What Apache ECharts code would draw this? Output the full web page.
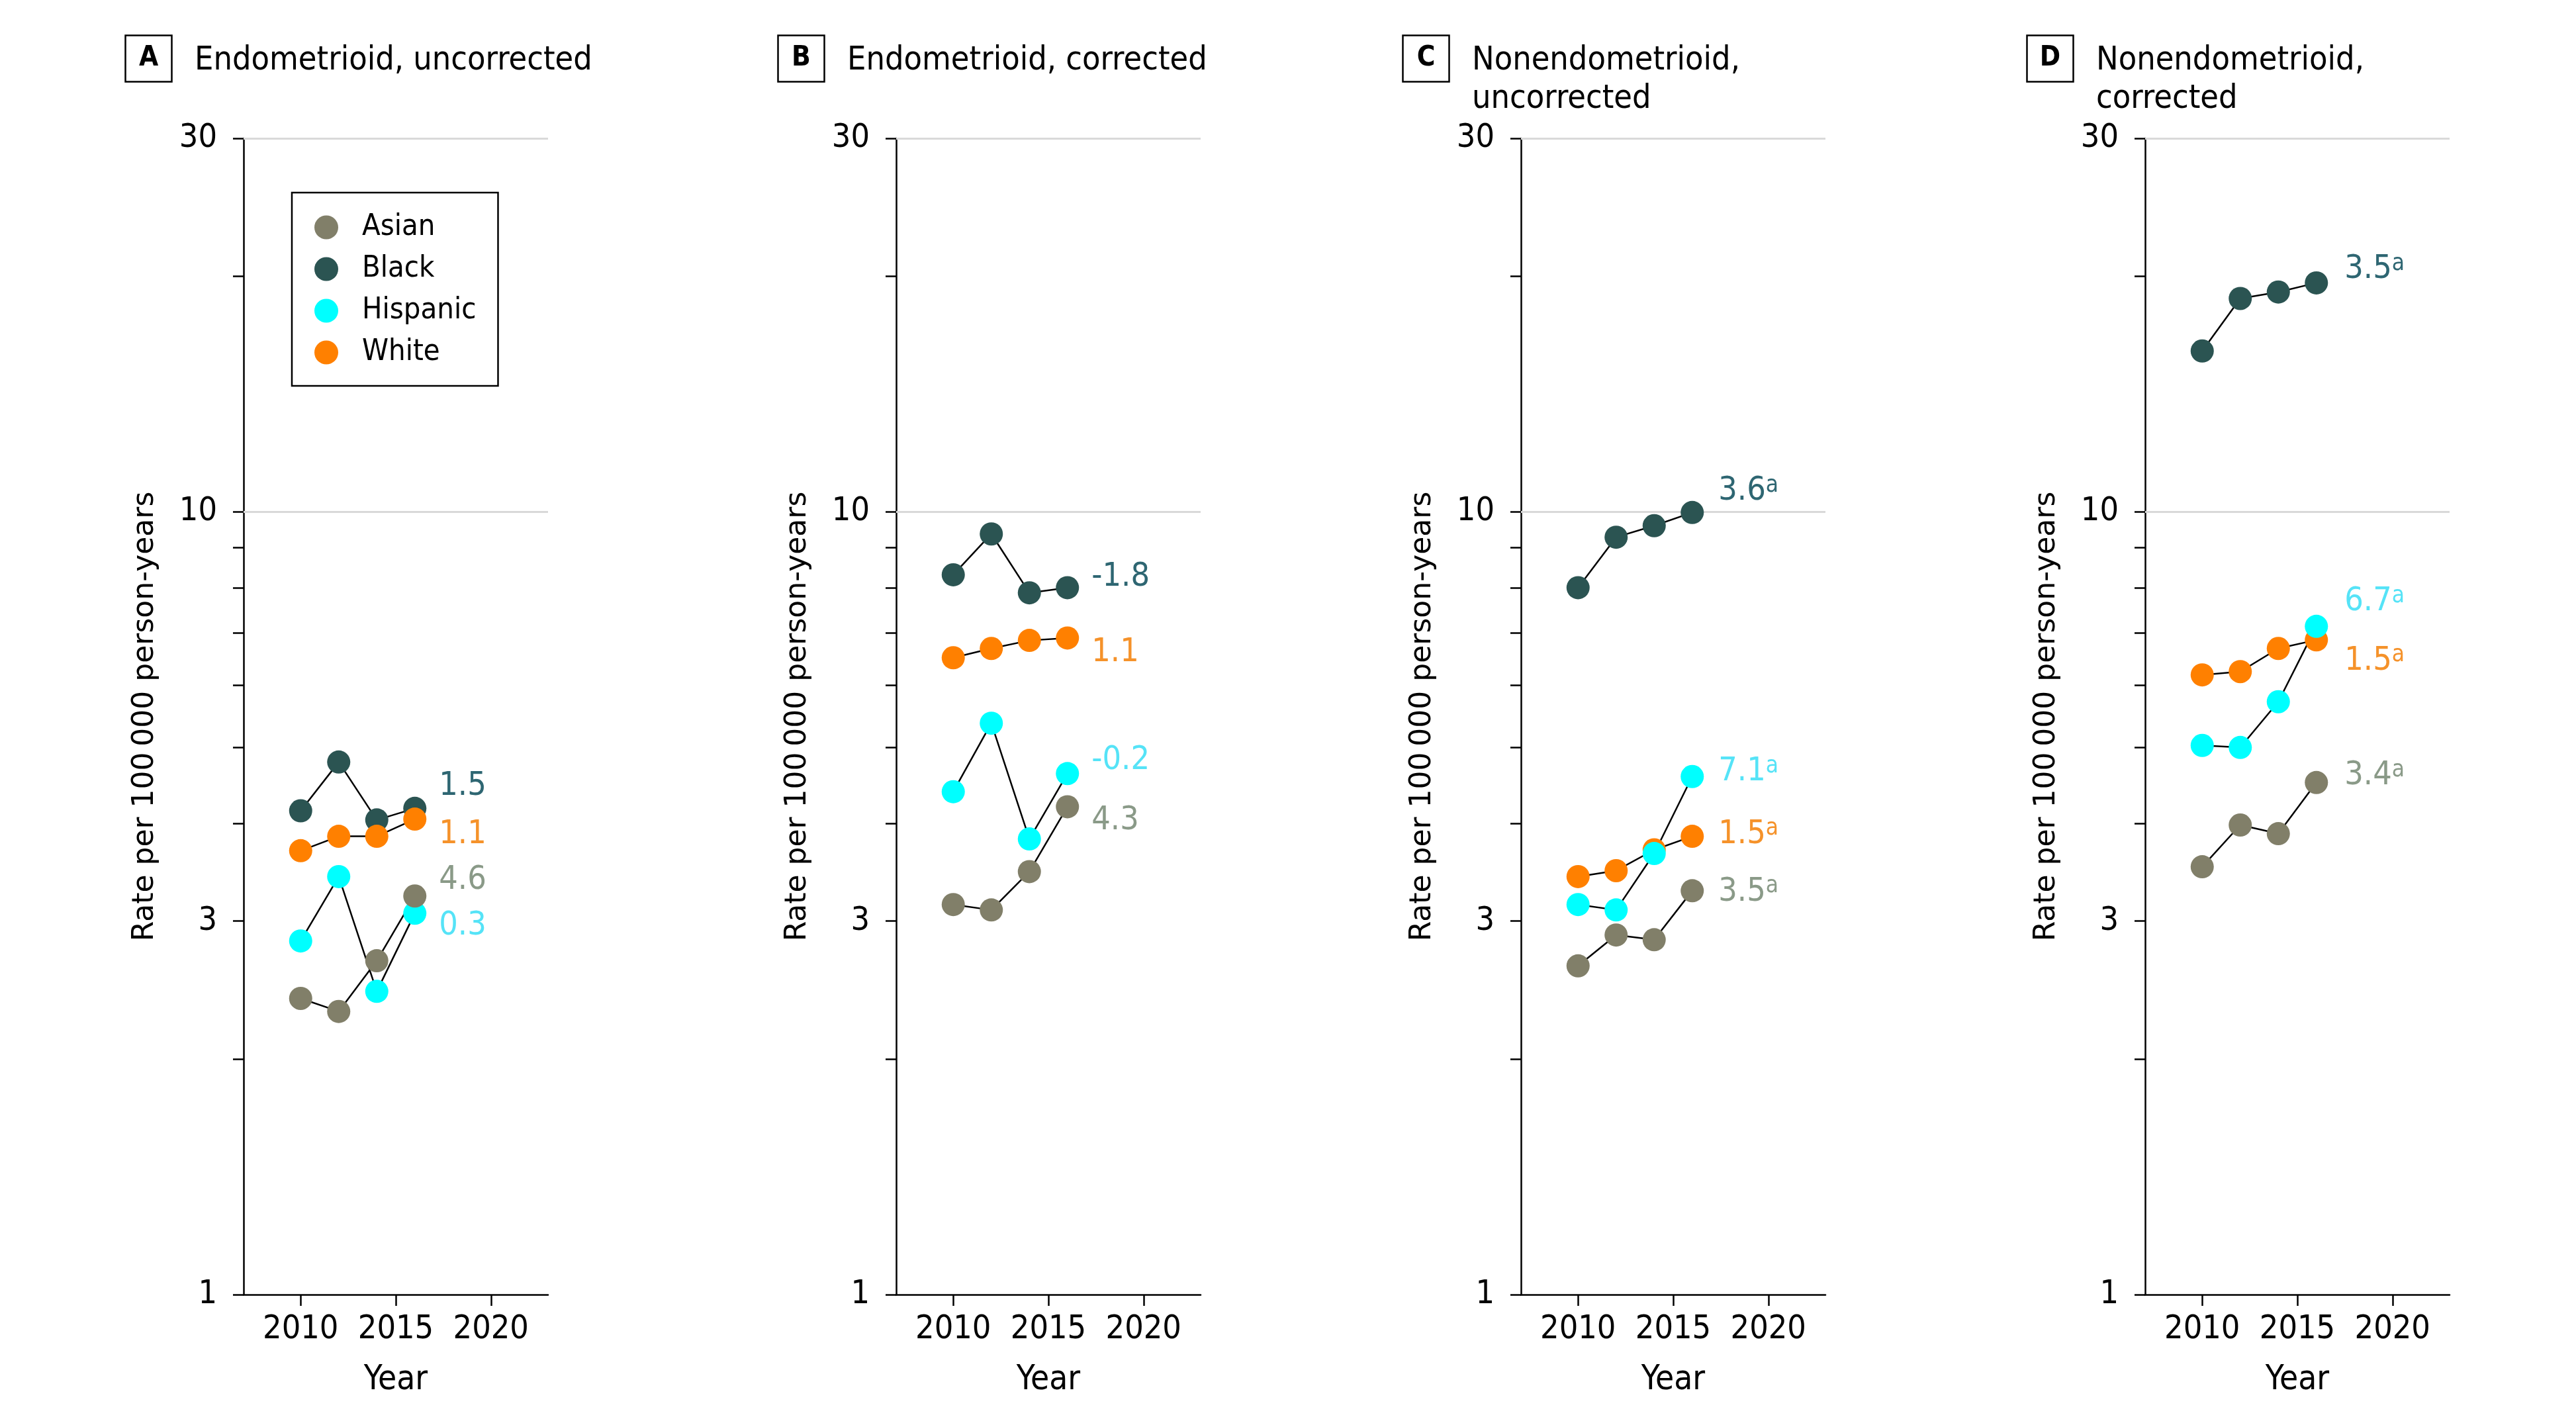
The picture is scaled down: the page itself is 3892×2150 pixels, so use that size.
<!DOCTYPE html>
<html>
<head>
<meta charset="utf-8">
<script src="https://cdn.jsdelivr.net/npm/echarts@6/dist/echarts.min.js"></script>
<style>
html,body{margin:0;padding:0;background:#fff;}
#chart{width:3892px;height:2150px;}
</style>
</head>
<body>
<div id="chart"></div>
<script>
// ---------------- DATA ----------------
const years = [2010, 2012, 2014, 2016];
const groups = ['Asian', 'Black', 'Hispanic', 'White'];
const panelLetters = ['A', 'B', 'C', 'D'];
const panelTitles = ['Endometrioid, uncorrected', 'Endometrioid, corrected', 'Nonendometrioid,\nuncorrected', 'Nonendometrioid,\ncorrected'];

// Rate per 100 000 person-years (order: Asian, Black, Hispanic, White)
const asianA = [2.39, 2.30, 2.67, 3.23];
const blackA = [4.15, 4.79, 4.04, 4.18];
const hispanicA = [2.83, 3.42, 2.44, 3.07];
const whiteA = [3.69, 3.85, 3.85, 4.05];

const asianB = [3.15, 3.10, 3.47, 4.20];
const blackB = [8.31, 9.37, 7.88, 8.00];
const hispanicB = [4.39, 5.37, 3.82, 4.63];
const whiteB = [6.51, 6.69, 6.85, 6.90];

const asianC = [2.63, 2.88, 2.84, 3.28];
const blackC = [8.00, 9.28, 9.60, 9.98];
const hispanicC = [3.15, 3.10, 3.66, 4.59];
const whiteC = [3.42, 3.48, 3.70, 3.85];

const asianD = [3.52, 3.98, 3.88, 4.51];
const blackD = [16.05, 18.73, 19.09, 19.61];
const hispanicD = [5.03, 5.00, 5.72, 7.14];
const whiteD = [6.19, 6.25, 6.69, 6.86];

// Annual percent change labels (order: Asian, Black, Hispanic, White)
const apcA = ['4.6', '1.5', '0.3', '1.1'];
const apcB = ['4.3', '-1.8', '-0.2', '1.1'];
const apcC = ['3.5', '3.6', '7.1', '1.5'];
const apcD = ['3.4', '3.5', '6.7', '1.5'];
const sigA = [false, false, false, false];
const sigB = [false, false, false, false];
const sigC = [true, true, true, true];
const sigD = [true, true, true, true];

// Axis ticks
const yTickValues = [1, 2, 3, 4, 5, 6, 7, 8, 9, 10, 20, 30];
const yLabelValues = [1, 3, 10, 30];
const yGridValues = [10, 30];
const xLabelValues = [2010, 2015, 2020];
const yMin = 1, yMax = 30, xMin = 2007, xMax = 2023;

// ---------------- STYLE ----------------
const FONT = '"DejaVu Sans Condensed", "DejaVu Sans", sans-serif';
const FONT_WIDE = '"DejaVu Sans", sans-serif';
const groupColors = ['#817f69', '#2b5452', '#00ffff', '#ff8000'];
const labelColors = ['#8a9a88', '#2e6672', '#55e3f7', '#f5922a'];
const drawOrder = [1, 3, 2, 0]; // Black, White, Hispanic, Asian
const gridLefts = [368, 1354, 2298, 3241];
const gridTop = 209, gridWidth = 460, gridHeight = 1747;
const labelDy = [[-24, -33, 19, 23], [21, -16, -20, 22], [2, -32, -7, -3], [-10, -20, -37, 32]];
const labelDist = [19, 19, 22, 25];

const panelRates = [
  [asianA, blackA, hispanicA, whiteA],
  [asianB, blackB, hispanicB, whiteB],
  [asianC, blackC, hispanicC, whiteC],
  [asianD, blackD, hispanicD, whiteD]
];
const panelApc = [apcA, apcB, apcC, apcD];
const panelSig = [sigA, sigB, sigC, sigD];

// ---------------- OPTION ----------------
const grids = [], xAxes = [], yAxes = [], series = [], titles = [];

gridLefts.forEach((left, p) => {
  grids.push({ left: left, top: gridTop, width: gridWidth, height: gridHeight, containLabel: false, outerBoundsMode: 'none' });

  xAxes.push({
    type: 'value', gridIndex: p, min: xMin, max: xMax,
    name: 'Year', nameLocation: 'middle', nameGap: 104,
    nameTextStyle: { fontFamily: FONT, fontSize: 51, color: '#000' },
    axisLine: { show: true, onZero: false, lineStyle: { color: '#000', width: 2.5 } },
    axisTick: { show: true, length: 17, customValues: xLabelValues, lineStyle: { color: '#000', width: 2.5 } },
    axisLabel: { customValues: xLabelValues, formatter: v => String(v), fontFamily: FONT, fontSize: 50, color: '#000', margin: 28 },
    splitLine: { show: false }
  });

  yAxes.push({
    type: 'log', logBase: 10, gridIndex: p, min: yMin, max: yMax,
    name: 'Rate per 100\u2009000 person-years', nameLocation: 'middle', nameGap: 126,
    nameTextStyle: { fontFamily: FONT_WIDE, fontSize: 44, color: '#000' },
    axisLine: { show: true, lineStyle: { color: '#000', width: 2.5 } },
    axisTick: { show: true, length: 16, customValues: yTickValues, lineStyle: { color: '#000', width: 2.5 } },
    axisLabel: { customValues: yLabelValues, formatter: v => String(v), fontFamily: FONT, fontSize: 50, color: '#000', margin: 40 },
    splitLine: { show: false }
  });

  // Panel letter box
  titles.push({
    text: '{b|' + panelLetters[p] + '}',
    left: left - 179, top: 53, padding: 0,
    borderColor: '#000', borderWidth: 2.5,
    textStyle: {
      rich: {
        b: { width: 71, height: 71, lineHeight: 71, align: 'center', verticalAlign: 'middle',
             fontFamily: FONT, fontWeight: 'bold', fontSize: 42, color: '#000' }
      }
    }
  });
  // Panel title text
  titles.push({
    text: panelTitles[p],
    left: left - 74, top: 63, padding: 0,
    textStyle: { fontFamily: FONT, fontSize: 50, lineHeight: 58, fontWeight: 'normal', color: '#000' }
  });

  drawOrder.forEach((g, k) => {
    const vals = panelRates[p][g];
    const last = vals.length - 1;
    const txt = panelSig[p][g] ? '{n|' + panelApc[p][g] + '}{s|a}' : '{n|' + panelApc[p][g] + '}';
    const data = years.map((yr, i) => {
      if (i !== last) return [yr, vals[i]];
      return {
        value: [yr, vals[i]],
        label: {
          show: true, position: 'right', distance: labelDist[p], offset: [0, labelDy[p][g]],
          formatter: txt,
          rich: {
            n: { fontFamily: FONT, fontSize: 50, lineHeight: 52, color: labelColors[g] },
            s: { fontFamily: FONT, fontSize: 35, lineHeight: 34, verticalAlign: 'top', color: labelColors[g] }
          }
        }
      };
    });
    const s = {
      type: 'line', name: groups[g], xAxisIndex: p, yAxisIndex: p,
      data: data,
      symbol: 'circle', symbolSize: 35,
      itemStyle: { color: groupColors[g] },
      lineStyle: { color: '#000', width: 2.5 },
      label: { show: false },
      emphasis: { disabled: true },
      z: 3
    };
    if (k === 0) {
      s.markLine = {
        silent: true, symbol: 'none', z: 1, animation: false,
        label: { show: false },
        lineStyle: { color: '#d9d9d9', width: 3, type: 'solid' },
        data: yGridValues.map(v => ({ yAxis: v }))
      };
    }
    series.push(s);
  });
});

const option = {
  backgroundColor: '#fff',
  animation: false,
  title: titles,
  legend: {
    data: groups,
    orient: 'vertical', left: 441, top: 291,
    padding: [30, 33, 28, 34],
    borderColor: '#000', borderWidth: 2.5,
    icon: 'circle', itemWidth: 36, itemHeight: 36, itemGap: 18,
    selectedMode: false,
    textStyle: { fontFamily: FONT, fontSize: 45, lineHeight: 36, color: '#000', padding: [0, 0, 0, 31] }
  },
  grid: grids,
  xAxis: xAxes,
  yAxis: yAxes,
  series: series
};

const chart = echarts.init(document.getElementById('chart'), null, { renderer: 'canvas' });
chart.setOption(option);
</script>
</body>
</html>
